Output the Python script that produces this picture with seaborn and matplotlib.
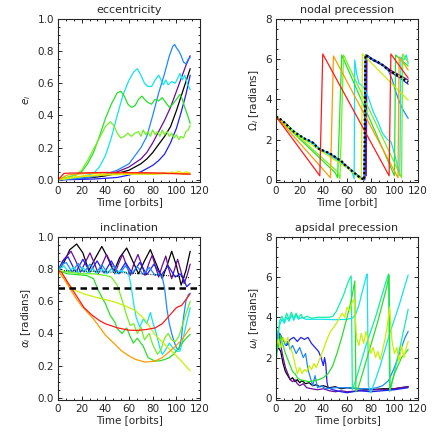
import numpy as np
import pandas as pd
import matplotlib
matplotlib.use('Agg')
import matplotlib.pyplot as plt
from matplotlib.ticker import MultipleLocator
import seaborn as sns

# colours, rainbow order (black -> red)
BLACK = '#000000'
PURPLE = '#6c0c9c'
BLUE = '#2020f0'
DODGER = '#1e88ff'
CYAN = '#10e4f0'
TEAL = '#10f0a0'
GREEN = '#28e028'
LIME = '#70f020'
CHART = '#c8f000'
YELLOW = '#e8e800'
ORANGE = '#ff9a00'
RED = '#ff1a1a'

# ---------------- eccentricity (time, e) ----------------
ecc_black = [(0, 0), (10, 0.005), (20, 0.01), (30, 0.015), (40, 0.025), (50, 0.04), (60, 0.06), (70, 0.1),
             (75, 0.13), (80, 0.17), (85, 0.22), (90, 0.27), (95, 0.33), (100, 0.43), (104, 0.52), (108, 0.61),
             (111.6, 0.69)]
ecc_purple = [(0, 0), (20, 0.01), (30, 0.02), (40, 0.03), (50, 0.05), (60, 0.08), (70, 0.13), (75, 0.17),
              (80, 0.23), (85, 0.3), (90, 0.37), (95, 0.45), (100, 0.55), (104, 0.63), (108, 0.71), (111.6, 0.77)]
ecc_blue = [(0, 0), (30, 0.005), (50, 0.015), (60, 0.03), (70, 0.05), (80, 0.09), (85, 0.12), (90, 0.16),
            (95, 0.23), (100, 0.32), (104, 0.42), (108, 0.53), (111.6, 0.65)]
ecc_dodger = [(0, 0), (20, 0.01), (30, 0.02), (40, 0.035), (50, 0.06), (60, 0.1), (65, 0.15), (70, 0.2),
              (75, 0.27), (80, 0.4), (85, 0.54), (90, 0.66), (94, 0.77), (97, 0.83), (98.5, 0.84), (100, 0.82),
              (102, 0.8), (104, 0.77), (106, 0.73), (108, 0.72), (110, 0.75), (111.6, 0.76)]
ecc_cyan = [(0, 0), (10, 0.01), (20, 0.02), (30, 0.04), (35, 0.08), (40, 0.15), (45, 0.26), (50, 0.4),
            (55, 0.53), (60, 0.62), (64, 0.67), (67, 0.69), (70, 0.65), (73, 0.6), (76, 0.58), (79, 0.58),
            (82, 0.62), (85, 0.65), (87, 0.62), (89, 0.59), (91, 0.62), (93, 0.59), (96, 0.61), (99, 0.6),
            (101, 0.63), (103, 0.66), (105, 0.62), (107, 0.65), (109, 0.6), (111.6, 0.56)]
ecc_green = [(0, 0), (10, 0.02), (15, 0.03), (20, 0.05), (25, 0.1), (30, 0.17), (35, 0.27), (40, 0.38),
             (45, 0.47), (50, 0.54), (53, 0.55), (56, 0.52), (59, 0.47), (62, 0.45), (65, 0.46), (68, 0.5),
             (71, 0.52), (73, 0.5), (76, 0.48), (79, 0.47), (82, 0.5), (85, 0.49), (88, 0.51), (91, 0.48),
             (94, 0.45), (97, 0.47), (100, 0.5), (103, 0.53), (105, 0.5), (107, 0.45), (109, 0.41), (111.6, 0.35)]
ecc_lime = [(0, 0), (10, 0.02), (15, 0.03), (20, 0.06), (25, 0.12), (30, 0.19), (35, 0.26), (40, 0.33),
            (44, 0.36), (47, 0.34), (50, 0.29), (53, 0.26), (56, 0.27), (59, 0.29), (62, 0.27), (65, 0.29),
            (68, 0.3), (70, 0.27), (72, 0.31), (74, 0.28), (76, 0.3), (78, 0.27), (80, 0.31), (82, 0.28),
            (84, 0.3), (86, 0.27), (88, 0.31), (90, 0.28), (92, 0.3), (94, 0.27), (96, 0.29), (98, 0.26),
            (100, 0.28), (102, 0.25), (104, 0.27), (106, 0.26), (108, 0.3), (110, 0.31), (111.6, 0.34)]
ecc_chart = [(0, 0), (20, 0.02), (40, 0.03), (60, 0.035), (80, 0.035), (95, 0.04), (100, 0.045),
             (105, 0.035), (111.6, 0.04)]
ecc_yellow = [(0, 0), (15, 0.02), (30, 0.03), (45, 0.035), (60, 0.038), (75, 0.04), (85, 0.038), (90, 0.045),
              (93, 0.037), (96, 0.05), (99, 0.04), (102, 0.055), (105, 0.04), (108, 0.05), (111.6, 0.042)]
ecc_orange = [(0, 0), (8, 0.03), (15, 0.036), (25, 0.04), (40, 0.043), (60, 0.043), (80, 0.042),
              (100, 0.04), (111.6, 0.038)]
ecc_red = [(0, 0), (5, 0.04), (10, 0.042), (20, 0.043), (30, 0.045), (40, 0.046), (50, 0.046), (60, 0.045),
           (70, 0.044), (80, 0.043), (90, 0.041), (100, 0.038), (111.6, 0.035)]

# ---------------- nodal precession (time, Omega) ----------------
nod_group = [(0, 3.15), (4, 3.0), (8, 2.8), (12, 2.55), (16, 2.35), (20, 2.2), (24, 2.05), (28, 1.95),
             (32, 1.82), (34, 1.65), (37, 1.5), (40, 1.45), (44, 1.35), (48, 1.22), (52, 1.05), (55, 0.95),
             (58, 0.75), (62, 0.55), (66, 0.35), (70, 0.15), (73, 0.05), (74.5, 0.0), (75.5, 6.2), (78, 6.1),
             (82, 5.95), (86, 5.85), (90, 5.7), (94, 5.5), (98, 5.35), (102, 5.2), (106, 5.1), (109, 4.95),
             (111.6, 4.85)]
nod_purple = [(0, 3.15), (8, 2.8), (16, 2.35), (24, 2.05), (32, 1.8), (37, 1.52), (44, 1.33), (52, 1.05),
              (58, 0.77), (66, 0.35), (73, 0.05), (75, 0.0), (75.6, 5.9), (76.2, 0.2), (76.8, 6.2), (82, 5.98),
              (90, 5.72), (98, 5.4), (106, 5.15), (111.6, 4.95)]
nod_blue = [(0, 3.15), (8, 2.78), (16, 2.33), (24, 2.03), (32, 1.8), (37, 1.48), (44, 1.33), (52, 1.03),
            (58, 0.73), (66, 0.33), (74.5, 0.0), (75.6, 6.2), (82, 5.93), (90, 5.68), (98, 5.3), (106, 5.0),
            (111.6, 4.75)]
nod_dodger = [(0, 3.15), (8, 2.8), (16, 2.35), (24, 2.05), (32, 1.82), (37, 1.5), (44, 1.35), (52, 1.05),
              (58, 0.75), (66, 0.35), (74.5, 0.0), (75.5, 6.2), (80, 6.05), (85, 5.9), (90, 5.7), (95, 5.4),
              (98, 5.0), (101, 4.4), (104, 3.9), (107, 3.5), (111.6, 3.05)]
nod_cyan = [(0, 3.15), (20, 2.2), (40, 1.45), (60, 0.6), (64, 0.4), (66, 0.05), (66.5, 5.95), (68, 5.3),
            (70, 4.8), (74, 4.6), (78, 4.1), (82, 3.4), (86, 2.9), (90, 2.3), (94, 2.0), (97, 1.9), (100, 1.3),
            (103, 0.6), (104.5, 0.2), (105.5, 6.1), (108, 5.95), (110, 6.2), (111.6, 5.75)]
nod_green = [(0, 3.15), (50, 0.35), (52, 0.1), (55.5, 6.2), (100, 0.2), (101, 6.2), (111.6, 5.65)]
nod_lime = [(0, 3.15), (52, 0.4), (54, 0.05), (57, 6.2), (106, 0.1), (107, 6.25), (111.6, 5.85)]
nod_chart = [(0, 3.15), (20, 2.15), (40, 1.35), (60, 0.6), (72, 0.0), (73, 6.25), (111.6, 3.95)]
nod_orange = [(0, 3.15), (46, 0.1), (48.5, 6.15), (103, 0.1), (104, 6.1), (111.6, 5.45)]
nod_red = [(0, 3.15), (37, 0.2), (39.5, 6.25), (95.5, 0.2), (97, 6.25), (111.6, 5.05)]

# ---------------- inclination (time, alpha) ----------------
inc_black = [(0, 0.79), (5, 0.84), (10, 0.92), (15.8, 0.955), (21, 0.9), (26, 0.79), (31, 0.86), (37, 0.94),
             (42, 0.87), (47, 0.78), (52, 0.87), (58, 0.93), (63, 0.85), (68, 0.77), (73, 0.85), (78, 0.92),
             (83, 0.83), (88, 0.74), (92, 0.82), (96, 0.91), (100, 0.82), (104, 0.70), (108, 0.79),
             (111.6, 0.91)]
inc_purple = [(0, 0.79), (5, 0.86), (11, 0.91), (15, 0.85), (19, 0.78), (23, 0.84), (27, 0.90), (31, 0.83),
              (34, 0.77), (38, 0.84), (41, 0.89), (45, 0.83), (48, 0.77), (51, 0.83), (54.5, 0.89), (58, 0.82),
              (61, 0.76), (64, 0.83), (67.5, 0.89), (71, 0.82), (73.5, 0.76), (76.5, 0.83), (79.5, 0.885),
              (82.5, 0.81), (85, 0.75), (88, 0.82), (91, 0.88), (93.5, 0.8), (96, 0.74), (98.5, 0.8),
              (101, 0.86), (104, 0.78), (106.5, 0.71), (109, 0.76), (111.6, 0.83)]
inc_blue = [(0, 0.79), (4, 0.85), (8.5, 0.875), (15, 0.78), (21, 0.86), (27, 0.78), (33, 0.85), (39, 0.775),
            (45, 0.85), (51, 0.77), (57, 0.84), (63, 0.77), (69, 0.84), (75, 0.765), (81, 0.83), (87, 0.76),
            (93, 0.82), (99, 0.75), (103, 0.77), (106, 0.74), (108.6, 0.69), (111.6, 0.71)]
inc_dodger = [(0, 0.79), (3.5, 0.83), (7, 0.84), (12, 0.78), (17, 0.835), (22, 0.78), (27, 0.83), (32, 0.775),
              (37, 0.825), (42, 0.775), (47, 0.82), (52, 0.77), (57, 0.82), (62, 0.77), (67, 0.815),
              (72, 0.765), (77, 0.81), (82, 0.76), (85, 0.77), (88, 0.75), (90, 0.68), (92, 0.55), (94, 0.46),
              (96, 0.4), (98, 0.35), (100, 0.31), (102, 0.3), (104, 0.36), (106, 0.5), (108, 0.6), (110, 0.64),
              (111.6, 0.65)]
inc_cyan = [(0, 0.79), (5, 0.82), (9, 0.78), (13, 0.81), (17, 0.775), (21, 0.81), (25, 0.775), (29, 0.80),
            (33, 0.775), (37, 0.80), (41, 0.77), (45, 0.80), (49, 0.77), (53, 0.79), (57, 0.78), (60, 0.76),
            (62, 0.68), (64, 0.58), (66, 0.5), (69, 0.44), (72, 0.49), (75, 0.46), (78, 0.53), (80, 0.47),
            (83, 0.40), (86, 0.31), (88, 0.27), (91, 0.30), (94, 0.34), (97, 0.31), (100, 0.29), (103, 0.29),
            (106, 0.38), (109, 0.48), (111.6, 0.56)]
inc_green = [(0, 0.79), (8, 0.77), (16, 0.765), (24, 0.76), (30, 0.74), (34, 0.667), (40, 0.585), (44, 0.513),
             (48, 0.47), (50, 0.43), (54, 0.40), (58, 0.434), (61, 0.38), (63.6, 0.34), (67, 0.37), (72, 0.32),
             (76, 0.25), (82, 0.228), (86, 0.23), (90, 0.238), (94, 0.25), (97.5, 0.27), (103, 0.32),
             (107, 0.36), (111.6, 0.395)]
inc_lime = [(0, 0.79), (10, 0.78), (20, 0.77), (30, 0.77), (40, 0.76), (45, 0.75), (50, 0.70), (54, 0.61),
            (58, 0.51), (61, 0.45), (64, 0.46), (67, 0.40), (70, 0.44), (73, 0.36), (77, 0.40), (80, 0.33),
            (84, 0.27), (87, 0.30), (90, 0.37), (93, 0.40), (96, 0.36), (99, 0.35), (102, 0.38), (105, 0.45),
            (108, 0.52), (111.6, 0.6)]
inc_chart = [(0, 0.79), (3, 0.76), (8, 0.71), (14.4, 0.667), (22, 0.645), (31, 0.626), (40, 0.61), (48, 0.595),
             (57, 0.57), (65, 0.544), (73.5, 0.485), (82, 0.39), (89, 0.34), (96, 0.29), (104, 0.23),
             (111.6, 0.167)]
inc_orange = [(0, 0.79), (5, 0.74), (10, 0.68), (15, 0.62), (20, 0.57), (25, 0.53), (30, 0.49), (35, 0.44),
              (40, 0.39), (47, 0.34), (54, 0.29), (60, 0.26), (65, 0.24), (73.5, 0.222), (82, 0.228), (88, 0.25),
              (93, 0.28), (99, 0.32), (104.5, 0.36), (111.6, 0.434)]
inc_red = [(0, 0.79), (3, 0.78), (8, 0.72), (15, 0.64), (22, 0.56), (28.5, 0.515), (35, 0.48), (40, 0.46),
           (50, 0.435), (60, 0.42), (68, 0.419), (75, 0.425), (82, 0.434), (88, 0.46), (94.6, 0.515), (100, 0.56),
           (104.5, 0.575), (111.6, 0.646)]
inc_mean = [(5, 0.79), (30, 0.785), (60, 0.775), (80, 0.765), (100, 0.755), (111.6, 0.745)]
inc_crit = 0.685

# ---------------- apsidal precession (time, omega) ----------------
aps_black = [(0, 2.2), (2, 2.5), (4, 2.3), (6, 1.7), (8, 1.3), (10, 1.1), (12, 0.9), (14, 1.0), (16, 0.8),
             (18, 0.9), (20, 0.75), (22, 0.85), (25, 0.7), (28, 0.75), (31, 0.6), (34, 0.65), (37, 0.55),
             (40, 0.6), (45, 0.5), (50, 0.55), (55, 0.45), (60, 0.5), (70, 0.45), (80, 0.4), (90, 0.45),
             (100, 0.45), (105, 0.5), (111.6, 0.55)]
aps_purple = [(0, 2.8), (2, 3.3), (4, 2.6), (6, 2.0), (8, 1.5), (10, 1.2), (12, 0.9), (14, 0.8), (16, 0.9),
              (18, 0.7), (20, 0.6), (23, 0.7), (26, 0.5), (30, 0.45), (35, 0.4), (40, 0.45), (45, 0.35),
              (50, 0.3), (55, 0.35), (60, 0.3), (70, 0.35), (80, 0.4), (90, 0.4), (100, 0.45), (105, 0.5),
              (111.6, 0.55)]
aps_blue = [(0, 2.7), (3, 3.2), (6, 2.9), (9, 2.6), (12, 2.9), (15, 3.0), (18, 2.8), (21, 3.0), (24, 2.9),
            (27, 3.0), (30, 2.7), (33, 2.5), (36, 2.3), (38, 2.0), (40, 1.6), (41, 2.0), (42, 1.7), (43, 0.8),
            (44, 0.5), (48, 0.4), (55, 0.3), (60, 0.25), (70, 0.35), (80, 0.3), (90, 0.35), (100, 0.4),
            (111.6, 0.5)]
aps_dodger = [(0, 2.5), (2, 3.0), (4, 2.7), (6, 2.9), (8, 2.6), (10, 2.8), (12, 2.4), (14, 2.6), (17, 2.2),
              (20, 2.5), (23, 2.0), (25, 2.2), (27, 1.4), (29, 1.0), (31, 0.6), (33, 1.1), (35, 0.5), (38, 0.6),
              (42, 0.45), (50, 0.5), (60, 0.5), (70, 0.45), (80, 0.45), (85, 0.5), (90, 0.6), (95, 0.85),
              (100, 1.5), (103, 2.0), (106, 2.5), (109, 3.0), (111.6, 3.3)]
aps_cyan = [(0, 2.5), (1, 3.2), (3, 3.6), (5, 3.9), (7, 3.7), (9, 4.0), (11, 3.8), (13, 4.1), (15, 3.85),
            (17, 4.1), (19, 3.9), (22, 4.0), (25, 3.9), (30, 3.9), (40, 3.9), (50, 3.88), (60, 3.9), (64, 3.95),
            (67, 4.1), (70, 4.6), (73, 5.3), (76, 6.0), (77, 6.15), (78, 0.6), (80, 0.25), (84, 0.9), (88, 1.6),
            (92, 2.4), (96, 3.2), (100, 3.9), (104, 4.6), (108, 5.4), (111.6, 6.1)]
aps_teal = [(0, 1.7), (2, 3.0), (3, 3.8), (5, 4.05), (7, 3.8), (9, 4.2), (11, 3.9), (13, 4.25), (15, 3.95),
            (17, 4.2), (19, 3.95), (21, 4.15), (23, 3.95), (26, 4.05), (30, 3.95), (35, 4.0), (40, 4.0),
            (45, 4.0), (48, 4.05), (51, 4.3), (54, 4.7), (57, 5.1), (60, 5.6), (62, 5.9), (63.5, 6.05),
            (64.5, 0.4), (68, 1.0), (72, 1.8), (76, 2.6), (80, 3.3), (84, 4.0), (88, 4.8), (92, 5.6),
            (95, 6.15), (96, 0.3), (99, 1.0), (102, 1.8), (105, 2.6), (108, 3.4), (111.6, 4.4)]
aps_green = [(0, 2.9), (2, 2.5), (4, 3.1), (6, 2.6), (8, 2.2), (10, 1.9), (12, 1.6), (14, 1.3), (16, 1.2),
             (18, 1.0), (20, 0.9), (24, 0.85), (28, 0.8), (32, 0.85), (36, 0.9), (40, 1.0), (44, 1.2),
             (48, 1.6), (52, 2.3), (56, 3.1), (60, 4.0), (63, 4.7), (65, 5.3), (66.5, 5.8), (67.5, 0.3),
             (70, 0.6), (74, 1.4), (78, 2.2), (82, 3.0), (86, 3.8), (90, 4.7), (93.5, 5.5), (95.5, 6.1),
             (96.3, 0.4), (98, 0.8), (100, 1.2), (103, 1.6), (106, 2.0), (109, 2.2), (111.6, 2.4)]
aps_chart = [(0, 2.6), (2, 2.9), (4, 2.5), (6, 3.0), (8, 2.7), (10, 3.0), (12, 2.5), (14, 2.2), (16, 1.7),
             (18, 1.2), (20, 1.5), (22, 1.2), (24, 1.4), (26, 1.3), (28, 1.6), (30, 1.4), (32, 1.7), (34, 1.5),
             (36, 1.8), (38, 2.1), (40, 2.4), (43, 2.9), (46, 3.3), (50, 3.6), (53, 3.9), (56, 4.2), (58, 4.0),
             (60, 4.5), (62, 4.3), (64, 4.7), (66, 4.9), (67, 4.0), (68, 3.0), (70, 2.6), (72, 3.2), (74, 2.7),
             (76, 3.3), (78, 2.8), (80, 2.2), (82, 2.5), (84, 2.0), (86, 2.3), (88, 1.9), (90, 2.4), (92, 2.9),
             (94, 3.6), (96, 4.5), (97, 3.5), (98, 2.8), (100, 2.2), (102, 2.5), (104, 1.8), (106, 2.6),
             (108, 2.0), (110, 2.5), (111.6, 2.8)]

plt.rcParams['font.family'] = ['DejaVu Sans']
sns.set_style('ticks')
plt.rcParams['font.family'] = ['DejaVu Sans']
plt.rcParams['font.size'] = 7.5
plt.rcParams['mathtext.fontset'] = 'dejavusans'

LW = 0.9


def draw(ax, pts, color, lw=LW, **kw):
    d = pd.DataFrame(pts, columns=['t', 'v'])
    sns.lineplot(data=d, x='t', y='v', ax=ax, color=color, lw=lw, sort=False, estimator=None, **kw)


def style(ax, title, ylabel, xlabel, ylim, ymaj, ymin):
    ax.set_xlim(0, 120)
    ax.set_ylim(*ylim)
    ax.xaxis.set_major_locator(MultipleLocator(20))
    ax.xaxis.set_minor_locator(MultipleLocator(20 / 3))
    ax.yaxis.set_major_locator(MultipleLocator(ymaj))
    ax.yaxis.set_minor_locator(MultipleLocator(ymin))
    ax.tick_params(which='both', direction='in', top=True, right=True, width=0.7, labelsize=7.5, pad=3)
    ax.tick_params(which='major', length=3.2)
    ax.tick_params(which='minor', length=1.6)
    for s in ax.spines.values():
        s.set_linewidth(0.8)
        s.set_visible(True)
    ax.set_title(title, fontsize=8, pad=4)
    ax.set_xlabel(xlabel, fontsize=7.5, labelpad=1)
    ax.set_ylabel(ylabel, fontsize=7.5, labelpad=3)


fig = plt.figure(figsize=(4.36, 4.36), dpi=100)
ax_e = fig.add_axes([0.133, 0.583, 0.326, 0.374])
ax_n = fig.add_axes([0.633, 0.583, 0.326, 0.374])
ax_i = fig.add_axes([0.133, 0.083, 0.326, 0.374])
ax_w = fig.add_axes([0.633, 0.083, 0.326, 0.374])

# eccentricity
for pts, c in [(ecc_black, BLACK), (ecc_purple, PURPLE), (ecc_blue, BLUE), (ecc_dodger, DODGER),
               (ecc_cyan, CYAN), (ecc_green, GREEN), (ecc_lime, LIME), (ecc_chart, CHART),
               (ecc_yellow, YELLOW), (ecc_orange, ORANGE), (ecc_red, RED)]:
    draw(ax_e, pts, c)
style(ax_e, 'eccentricity', r'$e_i$', 'Time [orbits]', (-0.012, 1.0), 0.2, 0.05)

# nodal precession
for pts, c in [(nod_purple, PURPLE), (nod_blue, BLUE), (nod_dodger, DODGER), (nod_cyan, CYAN),
               (nod_green, GREEN), (nod_lime, LIME), (nod_chart, CHART), (nod_orange, ORANGE),
               (nod_red, RED)]:
    draw(ax_n, pts, c)
draw(ax_n, nod_group, BLACK, lw=1.6, linestyle=(0, (1, 1)))
style(ax_n, 'nodal precession', r'$\Omega_i$ [radians]', 'Time [orbit]', (-0.1, 8.0), 2, 0.5)

# inclination
for pts, c in [(inc_black, BLACK), (inc_purple, PURPLE), (inc_blue, BLUE), (inc_dodger, DODGER),
               (inc_cyan, CYAN), (inc_green, GREEN), (inc_lime, LIME), (inc_chart, CHART),
               (inc_orange, ORANGE), (inc_red, RED)]:
    draw(ax_i, pts, c)
draw(ax_i, inc_mean, BLACK, lw=0.8, linestyle=(0, (0.8, 1.2)))
ax_i.axhline(inc_crit, color=BLACK, lw=1.8, linestyle=(0, (2.6, 1.8)))
style(ax_i, 'inclination', r'$\alpha_i$ [radians]', 'Time [orbits]', (-0.012, 1.0), 0.2, 0.05)

# apsidal precession
for pts, c in [(aps_black, BLACK), (aps_purple, PURPLE), (aps_blue, BLUE), (aps_dodger, DODGER),
               (aps_cyan, CYAN), (aps_teal, TEAL), (aps_green, GREEN), (aps_chart, CHART)]:
    draw(ax_w, pts, c)
style(ax_w, 'apsidal precession', r'$\omega_i$ [radians]', 'Time [orbits]', (-0.1, 8.0), 2, 0.5)

fig.savefig('out.png', dpi=100)
